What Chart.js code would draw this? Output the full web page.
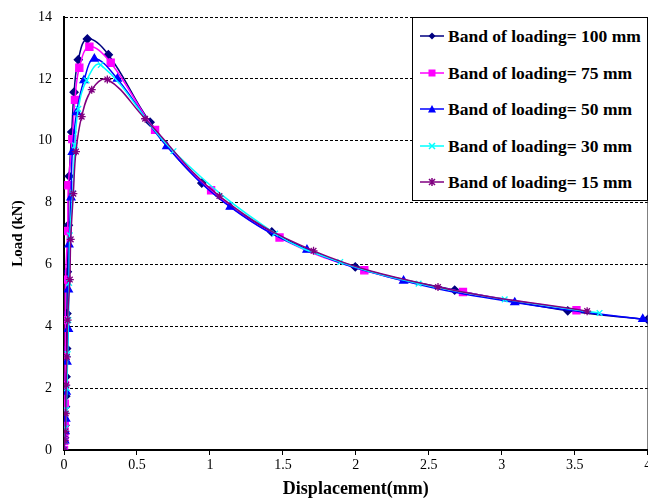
<!DOCTYPE html>
<html>
<head>
<meta charset="utf-8">
<script src="https://cdn.jsdelivr.net/npm/chart.js@4.4.1/dist/chart.umd.min.js"></script>
<style>
  html, body { margin: 0; padding: 0; background: #fff; overflow: hidden; }
  #wrap { position: relative; width: 648px; height: 500px; overflow: hidden; }
  #chart { position: absolute; left: 0; top: 0; }
  #legend {
    position: absolute; left: 412px; top: 17px; width: 234px; height: 182px;
    border: 1px solid #000; background: #fff;
    font-family: "Liberation Serif", Tinos, "Times New Roman", "Nimbus Roman", "DejaVu Serif", serif;
    font-weight: bold; font-size: 17.5px; color: #000;
  }
  .row { position: absolute; left: 7px; height: 20px; display: flex; align-items: center; white-space: nowrap; }
  .row svg { margin-right: 4px; }
</style>
</head>
<body>
<div id="wrap">
  <canvas id="chart" width="654" height="500"></canvas>
  <div id="legend"></div>
</div>
<script>
// Series labels and styles
const seriesNames = [
  'Band of loading= 100 mm',
  'Band of loading= 75 mm',
  'Band of loading= 50 mm',
  'Band of loading= 30 mm',
  'Band of loading= 15 mm'
];
const seriesColors = ['#000080', '#FF00FF', '#0000FF', '#00FFFF', '#800080'];
const seriesMarkers = ['rectRot', 'rect', 'triangle', 'crossRot', 'star'];

// Displacement (mm) / Load (kN)
const x100 = [0, 0.004, 0.007, 0.01, 0.012, 0.014, 0.018, 0.02, 0.023, 0.03, 0.036, 0.053, 0.069, 0.098, 0.16, 0.304, 0.59, 0.944, 1.424, 1.996, 2.677, 3.452, 4.0];
const y100 = [0, 0.4, 0.8, 1.4, 1.74, 2.37, 3.28, 4.41, 5.76, 7.27, 8.85, 10.28, 11.57, 12.62, 13.29, 12.78, 10.6, 8.63, 7.05, 5.92, 5.17, 4.5, 4.22];

const x75 = [0, 0.002, 0.004, 0.005, 0.006, 0.007, 0.008, 0.009, 0.01, 0.025, 0.03, 0.057, 0.075, 0.105, 0.174, 0.32, 0.624, 1.008, 1.477, 2.058, 2.734, 3.512];
const y75 = [0, 0.3, 0.6, 0.91, 1.5, 2.1, 3.01, 4.2, 5.51, 7.08, 8.56, 10.05, 11.32, 12.36, 13.04, 12.52, 10.35, 8.4, 6.87, 5.81, 5.11, 4.52];

const x50 = [0, 0.005, 0.008, 0.012, 0.015, 0.02, 0.03, 0.03, 0.034, 0.048, 0.057, 0.087, 0.137, 0.208, 0.366, 0.704, 1.139, 1.665, 2.327, 3.089, 3.966];
const y50 = [0, 0.3, 0.6, 1.01, 1.88, 2.85, 3.91, 5.19, 6.64, 8.16, 9.63, 10.92, 11.95, 12.65, 12.0, 9.82, 7.86, 6.47, 5.47, 4.77, 4.23];

const x30 = [0, 0.005, 0.01, 0.015, 0.02, 0.025, 0.03, 0.035, 0.04, 0.06, 0.075, 0.098, 0.155, 0.252, 0.75, 1.447, 1.893, 2.43, 3.02, 3.67];
const y30 = [0, 0.3, 0.7, 1.3, 2.0, 3.1, 4.2, 5.4, 6.94, 8.3, 9.85, 11.03, 11.95, 12.45, 9.66, 7.0, 6.08, 5.38, 4.87, 4.43];

const x15 = [0, 0.005, 0.01, 0.012, 0.015, 0.02, 0.025, 0.04, 0.046, 0.064, 0.082, 0.121, 0.19, 0.297, 0.556, 1.065, 1.71, 2.563, 3.585];
const y15 = [0, 0.3, 0.6, 1.18, 2.1, 3.01, 4.2, 5.51, 6.81, 8.29, 9.65, 10.78, 11.65, 11.98, 10.71, 8.21, 6.44, 5.27, 4.49];

const xSeries = [x100, x75, x50, x30, x15];
const ySeries = [y100, y75, y50, y30, y15];
const markerRadius = [4, 5, 4.5, 4, 4];

// Axis ticks
const xTicks = [0, 0.5, 1, 1.5, 2, 2.5, 3, 3.5, 4];
const yTicks = [0, 2, 4, 6, 8, 10, 12, 14];

const serif = '"Liberation Serif", Tinos, "Times New Roman", "Nimbus Roman", "DejaVu Serif", serif';

const datasets = seriesNames.map((name, i) => ({
  label: name,
  data: xSeries[i].map((x, j) => ({ x: x, y: ySeries[i][j] })),
  borderColor: seriesColors[i],
  backgroundColor: seriesColors[i],
  borderWidth: 1.5,
  pointStyle: seriesMarkers[i],
  pointRadius: markerRadius[i],
  pointBorderWidth: 1.3,
  tension: 0.4,
  order: seriesNames.length - i
}));

// canvas is a few px wider than the page so the last "4" label gets cut like the original
new Chart(document.getElementById('chart'), {
  type: 'line',
  data: { datasets: datasets },
  options: {
    responsive: false,
    animation: false,
    devicePixelRatio: 1,
    layout: { padding: { top: 17, right: 0, left: 0, bottom: 0 } },
    plugins: {
      legend: { display: false },
      tooltip: { enabled: false }
    },
    scales: {
      x: {
        type: 'linear',
        min: 0,
        max: 4,
        afterBuildTicks: (axis) => { axis.ticks = xTicks.map(v => ({ value: v })); },
        afterFit: (axis) => { axis.height = 50; },
        ticks: {
          color: '#000', padding: 2, maxRotation: 0,
          font: { family: serif, size: 14 },
          callback: (v) => String(v)
        },
        grid: {
          color: (ctx) => ctx.tick && ctx.tick.value === 4 ? '#808080' : 'transparent',
          tickColor: '#000',
          tickLength: 5,
          lineWidth: 1
        },
        border: { color: '#000', width: 2 },
        title: {
          display: true,
          text: 'Displacement(mm)',
          color: '#000',
          padding: { top: 0, bottom: 0 },
          font: { family: serif, size: 18, weight: 'bold' }
        }
      },
      y: {
        min: 0,
        max: 14,
        afterBuildTicks: (axis) => { axis.ticks = yTicks.map(v => ({ value: v })); },
        afterFit: (axis) => { axis.width = 64; axis.paddingTop = 0; axis.paddingBottom = 0; },
        ticks: {
          color: '#000', padding: 12,
          font: { family: serif, size: 14 },
          callback: (v) => String(v)
        },
        grid: {
          drawTicks: false,
          color: (ctx) => ctx.tick && ctx.tick.value === 0 ? 'transparent' : '#000',
          lineWidth: 1
        },
        border: { color: '#000', width: 2, dash: [3, 2] },
        title: {
          display: true,
          text: 'Load (kN)',
          color: '#000',
          padding: { top: 9, bottom: 0 },
          font: { family: serif, size: 15, weight: 'bold' }
        }
      }
    }
  }
});

// HTML legend box drawn from the same series arrays
function markerSvg(i) {
  const c = seriesColors[i];
  let m = '';
  if (i === 0) m = `<polygon points="12,2.5 15.5,6 12,9.5 8.5,6" fill="${c}"/>`;
  if (i === 1) m = `<rect x="8.5" y="2.5" width="7" height="7" fill="${c}"/>`;
  if (i === 2) m = `<polygon points="12,2 16,9.5 8,9.5" fill="${c}"/>`;
  if (i === 3) m = `<path d="M9,3 L15,9 M15,3 L9,9" stroke="${c}" stroke-width="1.5"/>`;
  if (i === 4) m = `<path d="M9,3 L15,9 M15,3 L9,9 M12,2 L12,10" stroke="${c}" stroke-width="1.5"/>`;
  return `<svg width="24" height="12" viewBox="0 0 24 12"><line x1="0" y1="6" x2="24" y2="6" stroke="${c}" stroke-width="1.5"/>${m}</svg>`;
}

const legendRowCenters = [19, 56, 92, 129, 165];
const legendEl = document.getElementById('legend');
seriesNames.forEach((name, i) => {
  const row = document.createElement('div');
  row.className = 'row';
  row.style.top = (legendRowCenters[i] - 11) + 'px';
  row.innerHTML = markerSvg(i);
  const span = document.createElement('span');
  span.textContent = name;
  row.appendChild(span);
  legendEl.appendChild(row);
});
</script>
</body>
</html>
